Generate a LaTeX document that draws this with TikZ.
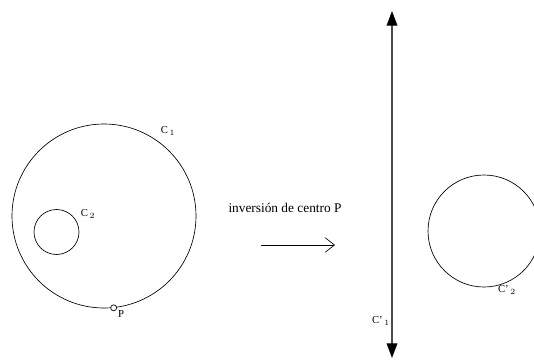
\documentclass[tikz,border=0pt]{standalone}
\usepackage{fontspec}
\setmainfont{Liberation Serif}
\usetikzlibrary{positioning,arrows.meta}

\begin{document}
\begin{tikzpicture}[
  x=0.75pt, y=-0.75pt,
  font=\normalsize,
  circ/.style={draw, circle, inner sep=0pt, line width=0.5pt},
  lbl/.style={font=\footnotesize, inner sep=1pt},
  vline/.style={draw=gray!60!black, line width=0.9pt, {Triangle[length=11pt,width=8pt,color=black]}-{Triangle[length=11pt,width=8pt,color=black]}},
  arr/.style={-{Straight Barb[length=7pt,width=11pt,line width=0.5pt]}, line width=0.5pt}]

\clip (0,0) rectangle (534,361);

% Left: circles before the inversion
\node[circ, minimum size=184*0.75pt] (c1) at (104,216) {};
\node[circ, minimum size=45*0.75pt] (c2) at (56.5,232) {};
\node[circ, minimum size=4.5pt, fill=white] (p) at (c1.-84) {};
\node[lbl] (c1lbl) at (168,131) {C\,$_1$};
\node[lbl] (c2lbl) at (88,214) {C\,$_2$};
\node[lbl] (plbl) at (121,314) {P};

% Middle: the map
\node (map) at (285,208) {inversión de centro P};
\coordinate (from) at (261,245);
\coordinate (to) at (335,245);
\draw[arr] (from) -- (to);

% Right: images
\coordinate (top) at (392,11);
\coordinate (bot) at (392,358);
\draw[vline] (bot) -- (top);
\node[lbl] (c1plbl) at (381,321) {C'\,$_1$};
\node[circ, minimum size=112*0.75pt] (c2p) at (484,231) {};
\node[lbl] (c2plbl) at (507,290) {C'\,$_2$};
\end{tikzpicture}
\end{document}
